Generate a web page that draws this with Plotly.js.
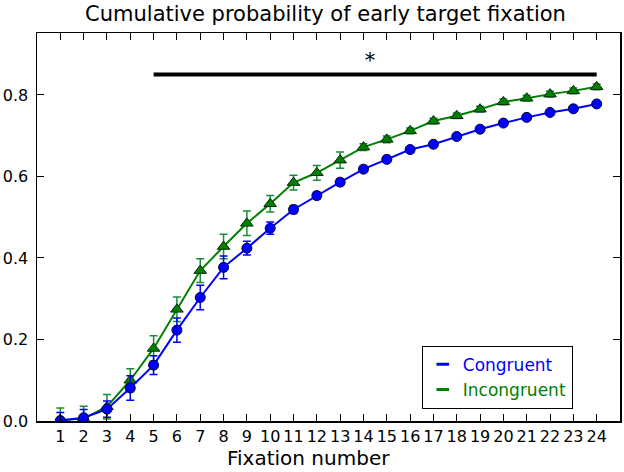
<!DOCTYPE html>
<html>
<head>
<meta charset="utf-8">
<script src="https://cdn.plot.ly/plotly-3.0.1.min.js"></script>
<style>html,body{margin:0;padding:0;background:#fff;}#chart{width:624px;height:472px;}</style>
</head>
<body>
<div id="chart"></div>
<script>
var fixation = [1,2,3,4,5,6,7,8,9,10,11,12,13,14,15,16,17,18,19,20,21,22,23,24];
var congruent = [0.001,0.008,0.029,0.081,0.137,0.223,0.303,0.377,0.424,0.473,0.519,0.553,0.586,0.618,0.642,0.666,0.679,0.698,0.716,0.731,0.745,0.757,0.766,0.778];
var congruentErr = [0.02,0.02,0.02,0.03,0.023,0.03,0.03,0.028,0.017,0.015,0.01,0.008,0.008,0.007,0.007,0.007,0.006,0.006,0.006,0.006,0.006,0.006,0.006,0.006];
var incongruent = [0.002,0.006,0.035,0.100,0.178,0.274,0.369,0.428,0.485,0.533,0.585,0.609,0.640,0.672,0.691,0.712,0.736,0.749,0.765,0.783,0.792,0.802,0.810,0.820];
var incongruentErr = [0.03,0.03,0.03,0.028,0.031,0.03,0.029,0.03,0.03,0.02,0.018,0.018,0.02,0.008,0.008,0.007,0.007,0.007,0.007,0.007,0.007,0.007,0.007,0.007];
var sigX = [5,24];
var sigY = [0.85,0.85];
var sigLabel = '*';
var yTicks = [0,0.2,0.4,0.6,0.8];
var yTickText = ['0.0','0.2','0.4','0.6','0.8'];

var traces = [
  {x: fixation, y: incongruent, type:'scatter', mode:'lines+markers', showlegend:false,
   line:{color:'#008000', width:2},
   marker:{symbol:'triangle-up', size:11, color:'#008000', line:{color:'#0a2a0a', width:1}},
   error_y:{type:'data', array: incongruentErr, visible:true, color:'#1a8a3a', thickness:1.5, width:4}},
  {x: fixation, y: congruent, type:'scatter', mode:'lines+markers', showlegend:false,
   line:{color:'#0000ff', width:2},
   marker:{symbol:'circle', size:10, color:'#0000ff', line:{color:'#00003a', width:1}},
   error_y:{type:'data', array: congruentErr, visible:true, color:'#0000ff', thickness:1.5, width:4}},
  {x: sigX, y: sigY, type:'scatter', mode:'lines', showlegend:false, hoverinfo:'skip',
   line:{color:'#000', width:4}},
  {x:[null], y:[null], type:'scatter', mode:'markers', name:'<span style="color:#0000ff">Congruent</span>',
   marker:{symbol:'line-ew', size:9, color:'#0000ff', line:{color:'#0000ff', width:3}}},
  {x:[null], y:[null], type:'scatter', mode:'markers', name:'<span style="color:#008000">Incongruent</span>',
   marker:{symbol:'line-ew', size:9, color:'#008000', line:{color:'#008000', width:3}}}
];

var layout = {
  width:624, height:472,
  margin:{l:37, r:4, t:33, b:51},
  paper_bgcolor:'#fff', plot_bgcolor:'#fff',
  font:{family:'DejaVu Sans', size:16, color:'#000'},
  title:{text:'Cumulative probability of early target fixation', font:{family:'DejaVu Sans', size:21, color:'#000'}, x:0.5216, xanchor:'center', y:0.972, yanchor:'middle'},
  xaxis:{range:[0,25], tickvals: fixation, ticks:'inside', ticklen:7, tickwidth:1, tickcolor:'#000',
    showline:true, linecolor:'#000', linewidth:1.5, mirror:'ticks', showgrid:false, zeroline:false,
    tickfont:{size:16}},
  yaxis:{range:[0,0.952], tickvals: yTicks, ticktext: yTickText, ticks:'inside', ticklen:7, tickwidth:1, tickcolor:'#000',
    showline:true, linecolor:'#000', linewidth:1.5, mirror:'ticks', showgrid:false, zeroline:false,
    tickfont:{size:16}, ticklabelstandoff:4},
  legend:{x:0.66, y:0.194, xanchor:'left', yanchor:'top', bgcolor:'#fff', bordercolor:'#000', borderwidth:1,
    font:{size:17}, itemwidth:30, tracegroupgap:0},
  annotations:[
    {x:14.27, y:0.885, xref:'x', yref:'y', text:sigLabel, showarrow:false,
     font:{family:'DejaVu Serif', size:20, color:'#000'}},
    {x:0.465, y:0, xref:'paper', yref:'paper', xanchor:'center', yanchor:'middle', yshift:-37, borderpad:0,
     text:'Fixation number', showarrow:false, font:{family:'DejaVu Sans', size:20, color:'#000'}}
  ]
};
Plotly.newPlot('chart', traces, layout, {displayModeBar:false, staticPlot:true});
</script>
</body>
</html>
